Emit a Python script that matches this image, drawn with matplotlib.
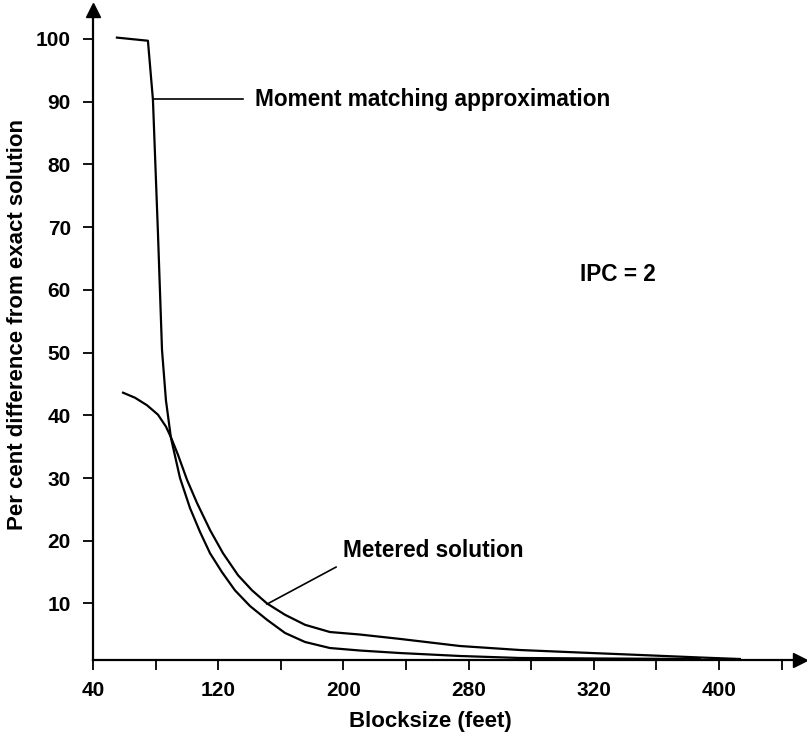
import numpy as np
import matplotlib.pyplot as plt

plt.rcParams['font.family'] = ['Liberation Sans', 'DejaVu Sans']
plt.rcParams['font.weight'] = 'bold'

# moment matching approximation
moment_x = [55.3, 75.1, 78.3, 81.5, 84.1, 86.6, 89.8, 95.6, 102.0, 108.4, 114.8, 122.4,
            130.7, 140.3, 151.2, 162.7, 175.5, 191.4, 210.6, 236.2, 274.5, 312.9, 364.0, 427.9]
moment_y = [100.2, 99.7, 90.3, 69.1, 50.4, 42.4, 36.4, 30.0, 25.2, 21.4, 18.0, 15.0,
            12.1, 9.6, 7.4, 5.3, 3.86, 2.9, 2.5, 2.1, 1.63, 1.31, 1.23, 1.15]

# metered solution
metered_x = [59.2, 66.8, 74.5, 81.5, 86.6, 89.8, 94.3, 100.1, 106.5, 114.8, 123.1, 132.7,
             141.6, 151.2, 162.7, 175.5, 191.4, 210.6, 236.2, 274.5, 312.9, 351.2, 389.5,
             427.9, 453.4]
metered_y = [43.6, 42.8, 41.6, 40.1, 38.2, 36.5, 33.7, 29.7, 26.0, 21.7, 18.0, 14.5,
             12.1, 10.0, 8.2, 6.6, 5.45, 5.05, 4.35, 3.22, 2.58, 2.18, 1.79, 1.39, 1.15]

x_ticks = [40, 80, 120, 160, 200, 240, 280, 320, 360, 400, 440, 480]
x_labels = ['40', '', '120', '', '200', '', '280', '', '320', '', '400', '']
y_ticks = [10, 20, 30, 40, 50, 60, 70, 80, 90, 100]

fig = plt.figure(figsize=(8.07, 7.40), dpi=100)
ax = fig.add_axes([93 / 807, 80 / 740, 707 / 807, 650 / 740])

ax.plot(moment_x, moment_y, color='black', lw=1.6)
ax.plot(metered_x, metered_y, color='black', lw=1.6)

ax.set_xlim(40, 491.8)
ax.set_ylim(0.99, 104.6)

for s in ['top', 'right']:
    ax.spines[s].set_visible(False)
for s in ['left', 'bottom']:
    ax.spines[s].set_linewidth(1.6)

ax.plot(1, 0, '>k', ms=10, transform=ax.transAxes, clip_on=False)
ax.plot(0, 1, '^k', ms=10, transform=ax.transAxes, clip_on=False)

ax.set_xticks(x_ticks)
ax.set_xticklabels(x_labels)
ax.set_yticks(y_ticks)
ax.tick_params(axis='both', direction='out', length=7, width=1.3, labelsize=15)
ax.tick_params(axis='x', pad=8)
ax.tick_params(axis='y', pad=9)

# annotations
ax.plot([78.3, 135.9], [90.4, 90.4], color='black', lw=1.2)
ax.text(143.5, 90.4, 'Moment matching approximation', fontsize=16.3, va='center', ha='left')
ax.plot([151.2, 195.3], [9.9, 15.8], color='black', lw=1.2)
ax.text(199.8, 18.5, 'Metered solution', fontsize=16.3, va='center', ha='left')
ax.text(351, 62.4, 'IPC = 2', fontsize=16.3, va='center', ha='left')

fig.text(430 / 807, 1 - 722 / 740, 'Blocksize (feet)', fontsize=16, ha='center', va='center')
fig.text(18 / 807, 1 - 325 / 740, 'Per cent difference from exact solution', fontsize=16,
         ha='center', va='center', rotation=90)

fig.savefig('out.png', dpi=100)
